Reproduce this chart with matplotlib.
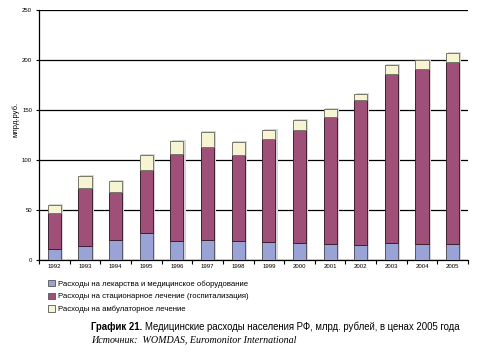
import numpy as np
import matplotlib
matplotlib.use("Agg")
import matplotlib.pyplot as plt
from matplotlib.patches import Patch

# =========================================================
# DATA
# =========================================================
years = ["1992", "1993", "1994", "1995", "1996", "1997", "1998",
         "1999", "2000", "2001", "2002", "2003", "2004", "2005"]

# cumulative tops of each stacked layer
drugs_top = [11, 14, 20, 27, 19, 20, 19, 18, 17, 16, 15, 17, 16, 16.5]
hosp_top = [47, 72, 68, 90, 106, 113, 105, 121, 130, 143, 160, 186, 191, 198]
total_top = [55, 84, 79, 105, 119, 128, 118, 130, 140, 151, 166, 195, 200, 207]

labels = [
    "Расходы на лекарства и медицинское оборудование",
    "Расходы на стационарное лечение (госпитализация)",
    "Расходы на амбулаторное лечение",
]

C_BLUE = "#99a3d6"
C_MAROON = "#9e5078"
C_CREAM = "#f6f4d2"

drugs = np.array(drugs_top)
hosp = np.array(hosp_top) - drugs
amb = np.array(total_top) - np.array(hosp_top)

# =========================================================
# PLOT
# =========================================================
plt.rcParams["font.family"] = ["Liberation Sans", "DejaVu Sans"]

fig = plt.figure(figsize=(4.84, 3.54), dpi=100)
ax = fig.add_axes([39 / 484, 1 - 260 / 354, 429 / 484, 250 / 354])

x = np.arange(len(years))
w = 0.43

# soft shadow behind bars
ax.bar(x + 0.06, np.array(total_top) + 1.2, w + 0.02, color="#d6d6d6",
       edgecolor="none", zorder=1)

ax.bar(x, drugs, w, color=C_BLUE, edgecolor="#555566", linewidth=0.7, zorder=3)
ax.bar(x, hosp, w, bottom=drugs, color=C_MAROON, edgecolor="#3e2030",
       linewidth=0.7, zorder=3)
ax.bar(x, amb, w, bottom=np.array(hosp_top), color=C_CREAM,
       edgecolor="#77776a", linewidth=0.7, zorder=3)

ax.set_xlim(-0.5, len(years) - 0.5)
ax.set_ylim(0, 250)
ax.set_yticks(np.arange(0, 251, 50))
ax.yaxis.grid(True, color="black", linewidth=0.9, zorder=0)
ax.set_axisbelow(True)

ax.set_xticks(x)
ax.set_xticklabels(years, fontsize=4.3)
ax.set_xticks(np.arange(-0.5, len(years), 1), minor=True)
ax.tick_params(axis="x", which="major", length=0, pad=3)
ax.tick_params(axis="x", which="minor", length=3, width=0.8, direction="out")
ax.tick_params(axis="y", labelsize=4.3, length=2, width=0.8, pad=3)

for s in ["top", "right"]:
    ax.spines[s].set_visible(False)
ax.spines["left"].set_linewidth(0.9)
ax.spines["bottom"].set_linewidth(0.9)

fig.text(16 / 484, 1 - 119 / 354, "млрд.руб.", rotation=90, fontsize=5.5,
         ha="center", va="center")

# legend
handles = [Patch(facecolor=c, edgecolor="#555555", linewidth=0.6)
           for c in [C_BLUE, C_MAROON, C_CREAM]]
fig.legend(handles, labels, loc="upper left",
           bbox_to_anchor=(48 / 484, 1 - 280 / 354), frameon=False,
           fontsize=5.6, handlelength=0.9, handleheight=0.9,
           handletextpad=0.4, labelspacing=0.6, borderpad=0, borderaxespad=0)

# caption
fig.canvas.draw()
t1 = fig.text(91 / 484, 1 - 327 / 354, "График 21.", fontsize=6.9,
              fontweight="bold", ha="left", va="center")
r = fig.canvas.get_renderer()
bb = t1.get_window_extent(renderer=r)
fig.text((bb.x1 + 3) / 484, 1 - 327 / 354,
         "Медицинские расходы населения РФ, млрд. рублей, в ценах 2005 года",
         fontsize=6.9, ha="left", va="center")
fig.text(91 / 484, 1 - 340 / 354,
         "Источник:  WOMDAS, Euromonitor International", fontsize=7.2,
         style="italic", family=["Liberation Serif", "DejaVu Serif"],
         ha="left", va="center")

fig.savefig("out.png", dpi=100)
